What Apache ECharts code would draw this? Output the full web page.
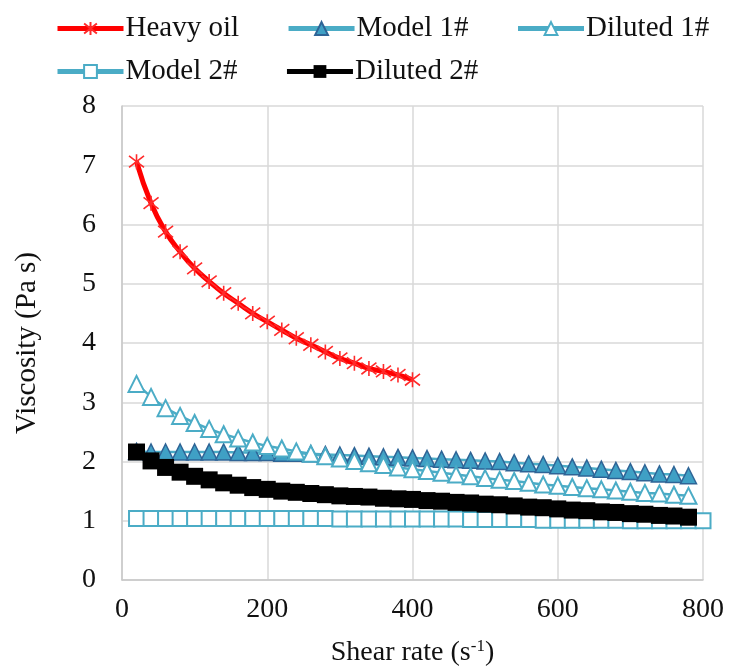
<!DOCTYPE html>
<html>
<head>
<meta charset="utf-8">
<script src="https://cdn.jsdelivr.net/npm/echarts@6/dist/echarts.min.js"></script>
<style>
  html, body { margin: 0; padding: 0; background: #fff; }
  #main { width: 729px; height: 668px; }
</style>
</head>
<body>
<div id="main"></div>
<script>
var shearRate = [20, 40, 60, 80, 100, 120, 140, 160, 180, 200,
  220, 240, 260, 280, 300, 320, 340, 360, 380, 400,
  420, 440, 460, 480, 500, 520, 540, 560, 580, 600,
  620, 640, 660, 680, 700, 720, 740, 760, 780, 800];

var heavyOil = [7.06, 6.36, 5.88, 5.54, 5.26, 5.04, 4.84, 4.67, 4.50, 4.36,
  4.22, 4.08, 3.97, 3.85, 3.74, 3.66, 3.57, 3.52, 3.46, 3.38];

var model1 = [2.17, 2.16, 2.16, 2.16, 2.16, 2.16, 2.16, 2.15, 2.15, 2.15,
  2.14, 2.14, 2.13, 2.12, 2.11, 2.10, 2.09, 2.08, 2.07, 2.06,
  2.05, 2.04, 2.03, 2.02, 2.01, 2.00, 1.98, 1.96, 1.95, 1.93,
  1.91, 1.89, 1.87, 1.85, 1.83, 1.81, 1.79, 1.78, 1.76];

var diluted1 = [3.31, 3.09, 2.90, 2.77, 2.65, 2.55, 2.46, 2.39, 2.32, 2.26,
  2.22, 2.17, 2.13, 2.09, 2.05, 2.01, 1.97, 1.94, 1.90, 1.87,
  1.84, 1.81, 1.78, 1.75, 1.72, 1.69, 1.67, 1.64, 1.61, 1.59,
  1.57, 1.55, 1.53, 1.51, 1.49, 1.47, 1.46, 1.44, 1.42];

var model2 = [1.04, 1.04, 1.04, 1.04, 1.04, 1.04, 1.04, 1.04, 1.04, 1.04,
  1.04, 1.04, 1.04, 1.04, 1.03, 1.03, 1.03, 1.03, 1.03, 1.03,
  1.03, 1.03, 1.03, 1.02, 1.02, 1.02, 1.02, 1.02, 1.01, 1.01,
  1.01, 1.01, 1.01, 1.01, 1.00, 1.00, 1.00, 1.00, 1.00, 1.00];

var diluted2 = [2.16, 2.01, 1.90, 1.82, 1.75, 1.69, 1.64, 1.60, 1.56, 1.53,
  1.50, 1.48, 1.46, 1.44, 1.42, 1.41, 1.40, 1.38, 1.37, 1.36,
  1.34, 1.33, 1.31, 1.30, 1.28, 1.27, 1.25, 1.23, 1.22, 1.20,
  1.18, 1.17, 1.15, 1.14, 1.12, 1.11, 1.09, 1.08, 1.06];

var xTicks = { min: 0, max: 800, interval: 200 };
var yTicks = { min: 0, max: 8, interval: 1 };

function pairs(values) {
  return values.map(function (v, i) { return [shearRate[i], v]; });
}

var teal = '#4bacc6';
var serif = 'Liberation Serif';
var asterisk = 'path://M0,0L10,10M10,0L0,10M5,-1.5L5,11.5';

var chartDom = document.getElementById('main');
var myChart = echarts.init(chartDom);
var option;

var legendText = { fontFamily: serif, fontSize: 29, color: '#111', padding: [0, 0, 0, -3] };

option = {
  animation: false,
  backgroundColor: '#fff',
  legend: [
    {
      data: ['Heavy oil', 'Model 1#', 'Diluted 1#'],
      left: 50,
      top: 9,
      itemWidth: 66,
      itemHeight: 16,
      itemGap: 47,
      textStyle: legendText,
      lineStyle: { width: 5 }
    },
    {
      data: ['Model 2#', 'Diluted 2#'],
      left: 50,
      top: 52,
      itemWidth: 66,
      itemHeight: 16,
      itemGap: 47,
      textStyle: legendText,
      lineStyle: { width: 5 }
    }
  ],
  grid: {
    left: 122,
    right: 26,
    top: 106,
    bottom: 88,
    outerBoundsMode: 'none'
  },
  xAxis: {
    type: 'value',
    min: xTicks.min,
    max: xTicks.max,
    interval: xTicks.interval,
    name: 'Shear rate (s{sup|-1})',
    nameLocation: 'middle',
    nameGap: 58,
    nameTextStyle: {
      fontFamily: serif,
      fontSize: 28,
      color: '#111',
      rich: {
        sup: { fontFamily: serif, fontSize: 17, verticalAlign: 'top', padding: [0, 0, 12, 0], color: '#111' }
      }
    },
    axisLine: { show: true, lineStyle: { color: '#c8c8c8', width: 1.5 } },
    axisTick: { show: false },
    axisLabel: { fontFamily: serif, fontSize: 28, color: '#111', margin: 16 },
    splitLine: { show: true, lineStyle: { color: '#d9d9d9', width: 1.5 } }
  },
  yAxis: {
    type: 'value',
    min: yTicks.min,
    max: yTicks.max,
    interval: yTicks.interval,
    name: 'Viscosity (Pa s)',
    nameLocation: 'middle',
    nameGap: 80,
    nameTextStyle: { fontFamily: serif, fontSize: 29, color: '#111' },
    axisLine: { show: true, lineStyle: { color: '#c8c8c8', width: 1.5 } },
    axisTick: { show: false },
    axisLabel: { fontFamily: serif, fontSize: 28, color: '#111', margin: 26 },
    splitLine: { show: true, lineStyle: { color: '#d9d9d9', width: 1.5 } }
  },
  series: [
    {
      name: 'Heavy oil',
      type: 'line',
      data: pairs(heavyOil),
      symbol: asterisk,
      symbolSize: 15,
      showAllSymbol: true,
      smooth: true,
      lineStyle: { color: '#ff0000', width: 5 },
      itemStyle: { color: '#ff0000', borderColor: '#ff2a2a', borderWidth: 1.6 }
    },
    {
      name: 'Model 1#',
      type: 'line',
      data: pairs(model1),
      symbol: 'triangle',
      symbolSize: 16,
      showAllSymbol: true,
      lineStyle: { color: teal, width: 2.5 },
      itemStyle: { color: '#3fa0c5', borderColor: '#2e6496', borderWidth: 1.5 }
    },
    {
      name: 'Diluted 1#',
      type: 'line',
      data: pairs(diluted1),
      symbol: 'triangle',
      symbolSize: 16,
      showAllSymbol: true,
      lineStyle: { color: teal, width: 2.5 },
      itemStyle: { color: '#ffffff', borderColor: teal, borderWidth: 2 }
    },
    {
      name: 'Model 2#',
      type: 'line',
      data: pairs(model2),
      symbol: 'rect',
      symbolSize: 15,
      showAllSymbol: true,
      lineStyle: { color: teal, width: 2.5 },
      itemStyle: { color: '#ffffff', borderColor: teal, borderWidth: 2 }
    },
    {
      name: 'Diluted 2#',
      type: 'line',
      data: pairs(diluted2),
      symbol: 'rect',
      symbolSize: 17,
      showAllSymbol: true,
      lineStyle: { color: '#000000', width: 3 },
      itemStyle: { color: '#000000' }
    }
  ]
};

option && myChart.setOption(option);
</script>
</body>
</html>
